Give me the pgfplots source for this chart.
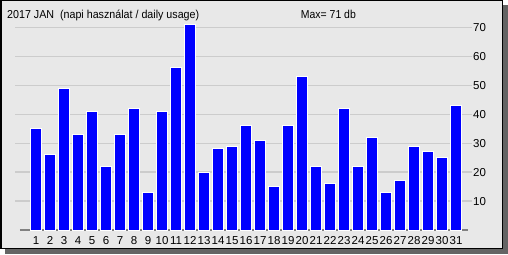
\documentclass[border=0pt]{standalone}
\usepackage{pgfplots}
\pgfplotsset{compat=1.18}
\usepackage{graphicx}
\usepackage{fontspec}
\setmainfont{Liberation Sans}
\definecolor{bgc}{RGB}{232,232,232}
\definecolor{shadowc}{RGB}{100,100,100}
\definecolor{gridc}{RGB}{204,204,204}
\definecolor{basec}{RGB}{128,128,128}
\begin{document}
\fontsize{11.5bp}{13bp}\selectfont
\begin{tikzpicture}[x=1bp,y=1bp]
\path[use as bounding box] (0,0) rectangle (508,254);
\fill[shadowc] (5,0) rectangle (508,249);
\fill[bgc] (0,5) rectangle (503,254);
\draw[black, line width=1.5bp] (0.75,5.75) rectangle (502.25,253.25);
\node[anchor=base west, inner sep=0] at (7,235.7) {\scalebox{0.93}[1]{2017 JAN\ \ (napi használat / daily usage)}};
\node[anchor=base west, inner sep=0] at (300.7,235.7) {\scalebox{0.91}[1]{Max= 71 db}};
\begin{axis}[
  at={(15bp,24bp)}, anchor=south west,
  scale only axis, width=457bp, height=217bp,
  xmin=-0.5, xmax=32.14, ymin=0, ymax=75,
  axis line style={draw=none}, tick style={draw=none},
  xtick={1,...,31}, ytick={10,20,...,70},
  yticklabel pos=right,
  ymajorgrids, grid style={gridc, line width=1.3bp},
  ybar, bar width=10.2bp,
  ticklabel style={font=\fontsize{11.5bp}{13bp}\selectfont},
  /pgf/number format/assume math mode=true,
  yticklabel style={inner xsep=1bp},
  xticklabel style={inner ysep=2bp},
]
\draw[basec, line width=1.3bp] (axis cs:-0.143,0) -- (axis cs:31.86,0);
\addplot[fill=blue, draw=white, line width=1bp] coordinates {
(1,35) (2,26) (3,49) (4,33) (5,41) (6,22) (7,33) (8,42) (9,13) (10,41)
(11,56) (12,71) (13,20) (14,28) (15,29) (16,36) (17,31) (18,15) (19,36) (20,53)
(21,22) (22,16) (23,42) (24,22) (25,32) (26,13) (27,17) (28,29) (29,27) (30,25)
(31,43)
};
\end{axis}
\end{tikzpicture}
\end{document}
